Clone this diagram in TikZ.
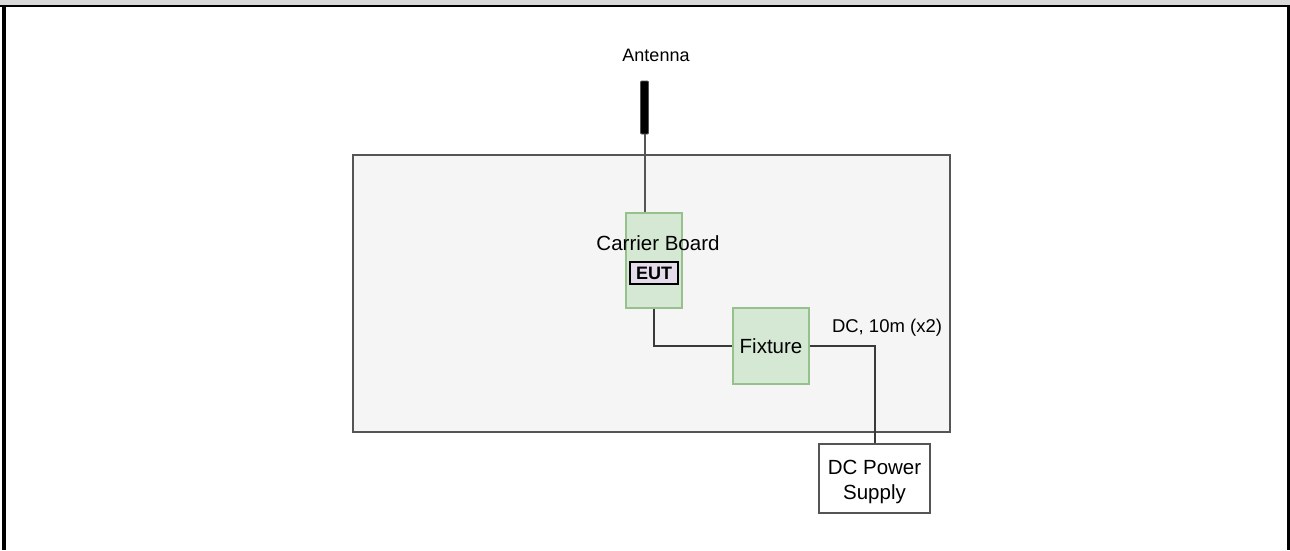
\documentclass[tikz,border=0pt]{standalone}
\usepackage{fontspec}
\setmainfont{Liberation Sans}
\usepackage{tikz}
\usetikzlibrary{positioning, calc}
\definecolor{boardfill}{HTML}{D5E8D4}
\definecolor{boardline}{HTML}{97C18C}
\definecolor{roomfill}{HTML}{F5F5F5}
\definecolor{roomline}{HTML}{555555}
\definecolor{eutfill}{HTML}{E4DCEA}
\definecolor{wiregray}{HTML}{3A3A3A}
\definecolor{bandgray}{HTML}{D9D9D9}
\tikzset{
  blk/.style={draw=roomline, line width=1.8pt, inner sep=0pt},
  lbl/.style={font=\fontsize{20.5}{25}\selectfont, inner sep=0pt},
  wire/.style={draw=wiregray, line width=2pt},
}

\begin{document}
\begin{tikzpicture}[x=1pt, y=-1pt,
  room/.style={blk, fill=roomfill, minimum width=597pt, minimum height=277pt},
  board/.style={blk, draw=boardline, fill=boardfill, lbl,
                minimum width=56pt, minimum height=95pt},
  eut/.style={draw=black, line width=1.5pt, fill=eutfill, inner sep=0pt,
              minimum width=48pt, minimum height=22pt,
              font=\fontsize{18}{20}\selectfont\bfseries},
  psu/.style={blk, fill=white, minimum width=111pt, minimum height=69pt},
  ant/.style={draw=roomline, line width=0.8pt, fill=black, rounded corners=1pt,
              minimum width=8pt, minimum height=53pt, inner sep=0pt}
]
  \useasboundingbox (0,0) rectangle (1290,550);

  %% ── page frame ──
  \fill[bandgray] (0,0) rectangle (1290,5.3);
  \draw[line width=2pt] (0,6.3) -- (1290,6.3);
  \draw[line width=4pt] (4,5.3) -- (4,550);
  \draw[line width=3pt] (1288.5,5.3) -- (1288.5,550);

  %% ── nodes ──
  \node[room]  (room)    at (651.5,293.5) {};
  \node[ant]   (ant)     at (644.5,107.5) {};
  \node[lbl, font=\fontsize{18}{22}\selectfont]
               (antlbl)  at (656,55)      {Antenna};
  \node[board] (carrier) at (654,260.5)   {};
  \node[lbl]   (carlbl)  at (658,243.5)   {Carrier Board};
  \node[eut]   (eut)     at (654,273)     {EUT};
  \node[board, minimum width=76pt, minimum height=76pt]
               (fixture) at (771,346)     {Fixture};
  \node[psu, label={[lbl, align=center, yshift=-3pt]center:DC Power\\Supply}]
               (psu)     at (874.5,478.5) {};

  %% ── wiring ──
  \draw[wire, draw=roomline] (ant.south) -- (ant.south |- carrier.north);
  \draw[wire] (carrier.south) |- (fixture.west);
  \draw[wire] (fixture.east) -| (psu.north);
  \node[lbl, font=\fontsize{18.5}{22}\selectfont]
               (dclbl)   at (887,328)     {DC, 10m (x2)};
\end{tikzpicture}
\end{document}
